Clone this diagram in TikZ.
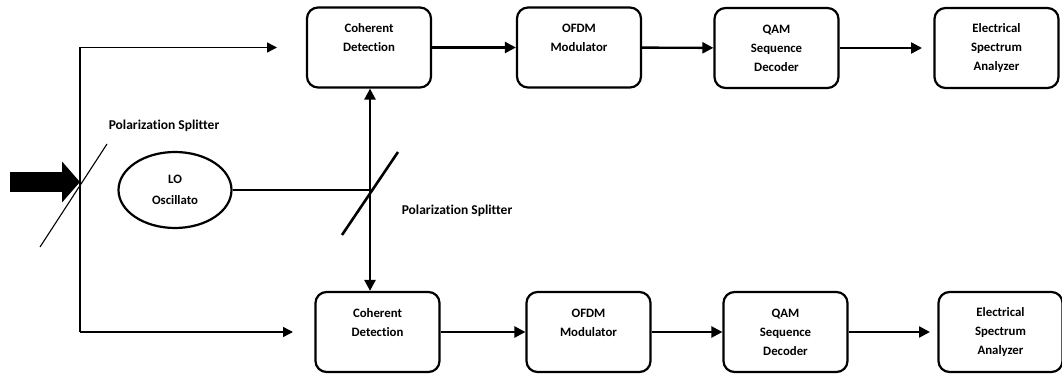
\documentclass[tikz,border=0pt]{standalone}
\usepackage{fontspec}
\setmainfont[Ligatures=NoCommon]{Carlito}
\usetikzlibrary{arrows.meta,shapes.geometric}
\begin{document}
\begin{tikzpicture}[x=1pt,y=-1pt,
  blk/.style={draw,line width=2.2pt,rounded corners=11pt,minimum width=124pt,minimum height=80pt,align=center,font=\bfseries\fontsize{12.8}{19}\selectfont},
  lbl/.style={font=\bfseries\fontsize{13.5}{19}\selectfont},
  fat/.style={line width=2.4pt,-{Triangle[length=11pt,width=11pt]}},
  thin/.style={line width=1.5pt,-{Triangle[length=10pt,width=10pt]}}]
\useasboundingbox (0,0) rectangle (1062,374);
% upper branch
\node[blk] (cohA) at (369,47.5) {Coherent\\Detection\\\mbox{}};
\node[blk] (ofdmA) at (579,47.5) {OFDM\\Modulator\\\mbox{}};
\node[blk] (qamA) at (776.5,48) {QAM\\Sequence\\Decoder};
\node[blk] (esaA) at (996.5,48) {Electrical\\Spectrum\\Analyzer};
% lower branch
\node[blk] (cohB) at (377.5,332) {Coherent\\Detection\\\mbox{}};
\node[blk] (ofdmB) at (588.5,332) {OFDM\\Modulator\\\mbox{}};
\node[blk] (qamB) at (785.5,332) {QAM\\Sequence\\Decoder};
\node[blk] (esaB) at (1000.5,332) {Electrical\\Spectrum\\Analyzer};
% local oscillator
\node[draw,ellipse,inner sep=0pt,line width=2.2pt,minimum width=113pt,minimum height=76pt,align=center,font=\bfseries\fontsize{12.8}{21}\selectfont] (lo) at (175,190) {LO\\Oscillato};
% splitters
\coordinate (splitA) at (80,182);
\coordinate (splitB) at (370,190);
\coordinate (topc) at (80,47.5);
\coordinate (botc) at (80,332);
\coordinate (inA) at (277,47.5);
\coordinate (inB) at (293,332);
\coordinate (endA) at (922,48);
\coordinate (endB) at (930,332);
\draw[line width=1.1pt] (40,247) -- (107,144);
\draw[line width=2.6pt] (342,235) -- (398,152);
\node[lbl] (labA) at (164,126) {Polarization Splitter};
\node[lbl] (labB) at (457,211) {Polarization Splitter};
% input
\draw[line width=20pt,-{Triangle[length=18pt,width=40pt]}] (10,182) -- (splitA);
\draw[line width=2.2pt] (topc) -- (botc);
\draw[thin] (topc) -- (inA);
\draw[thin] (botc) -- (inB);
% LO path
\draw[line width=2.4pt] (lo.east) -- (splitB);
\draw[fat] (splitB) -- (splitB |- cohA.south);
\draw[fat] (splitB) -- (splitB |- cohB.north);
% chains
\draw[fat] (cohA) -- (ofdmA);
\draw[fat] (ofdmA) -- (qamA);
\draw[fat] (qamA) -- (endA);
\draw[fat] (cohB) -- (ofdmB);
\draw[fat] (ofdmB) -- (qamB);
\draw[fat] (qamB) -- (endB);
\end{tikzpicture}
\end{document}
